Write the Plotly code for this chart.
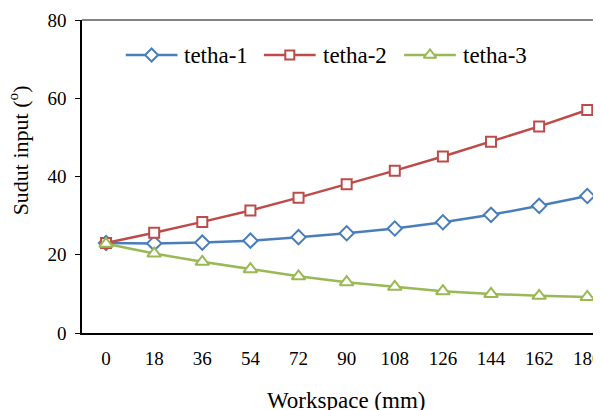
import plotly.graph_objects as go

workspace = ["0", "18", "36", "54", "72", "90", "108", "126", "144", "162", "180"]
tetha1 = [23.0, 22.9, 23.1, 23.6, 24.5, 25.5, 26.7, 28.3, 30.2, 32.5, 35.0]
tetha2 = [23.0, 25.6, 28.4, 31.3, 34.6, 38.0, 41.5, 45.1, 48.9, 52.8, 57.0]
tetha3 = [22.8, 20.3, 18.2, 16.3, 14.5, 13.0, 11.8, 10.7, 10.0, 9.5, 9.2]

series_names = ["tetha-1", "tetha-2", "tetha-3"]
series_values = [tetha1, tetha2, tetha3]
colors = ["#4A7EBB", "#BE4B48", "#98B954"]
symbols = ["diamond", "square", "triangle-up"]
sizes = [11, 10, 12]
legend_sizes = [10, 9, 11]
# legend item left edges (window px)
legend_x0 = [126, 265, 406]

FONT = "Liberation Serif"

# page body has an 8px margin; size the figure so it fills the window
OFF = 8
W, H = 601 - OFF, 410 - OFF
ml, mt, mb = 82 - OFF, 20 - OFF, 77
pw = W - ml
ph = H - mt - mb
cat_px = 48.4
xmax = -0.5 + pw / cat_px


def px(xw):
    return (xw - OFF - ml) / pw


def py(yw):
    return (H - mb - (yw - OFF)) / ph


fig = go.Figure()
for name, vals, col, sym, sz in zip(series_names, series_values, colors, symbols, sizes):
    fig.add_trace(go.Scatter(
        x=workspace, y=vals, name=name, mode="lines+markers", showlegend=False,
        line=dict(color=col, width=2.5),
        marker=dict(symbol=sym, size=sz, color="white", line=dict(color=col, width=2)),
    ))

# custom legend drawn on an overlay axis measured in plot pixels
annotations = []
LEG_Y = 55
for name, col, sym, lsz, x0 in zip(series_names, colors, symbols, legend_sizes, legend_x0):
    lx0, lx1 = px(x0) * pw, px(x0 + 52) * pw
    ly = py(LEG_Y) * ph
    fig.add_trace(go.Scatter(
        x=[lx0, lx1], y=[ly, ly], xaxis="x2", yaxis="y2", mode="lines",
        showlegend=False, hoverinfo="skip", line=dict(color=col, width=2.5)))
    fig.add_trace(go.Scatter(
        x=[(lx0 + lx1) / 2], y=[ly], xaxis="x2", yaxis="y2", mode="markers",
        showlegend=False, hoverinfo="skip",
        marker=dict(symbol=sym, size=lsz, color="white",
                    line=dict(color=col, width=2))))
    annotations.append(dict(
        text=name, xref="paper", yref="paper", x=px(x0 + 57), y=py(LEG_Y),
        xanchor="left", yanchor="middle", showarrow=False,
        font=dict(size=23, family=FONT, color="black")))

annotations += [
    dict(text="Workspace (mm)", xref="paper", yref="paper",
         x=px(348), y=py(400), xanchor="center", yanchor="middle",
         showarrow=False, font=dict(size=23, family=FONT)),
    dict(text="Sudut input (<sup>o</sup>)", xref="paper", yref="paper",
         x=px(18), y=py(150), xanchor="center", yanchor="middle",
         textangle=-90, showarrow=False, font=dict(size=22, family=FONT)),
]

fig.update_layout(
    width=W, height=H,
    margin=dict(l=ml, r=0, t=mt, b=mb),
    paper_bgcolor="white", plot_bgcolor="white",
    font=dict(family=FONT, color="black", size=19),
    showlegend=False,
    xaxis=dict(type="category", range=[-0.5, xmax], showgrid=False,
               showline=True, linecolor="black", linewidth=1.5,
               ticks="", ticklabelstandoff=7, tickfont=dict(size=19),
               zeroline=False),
    yaxis=dict(range=[0, 80], dtick=20, showgrid=False, showline=True,
               linecolor="black", linewidth=1.5, ticks="outside", ticklen=5,
               tickcolor="black", ticklabelstandoff=5, tickfont=dict(size=19),
               zeroline=False),
    xaxis2=dict(overlaying="x", anchor="y2", range=[0, pw], visible=False,
                fixedrange=True),
    yaxis2=dict(overlaying="y", anchor="x2", range=[0, ph], visible=False,
                fixedrange=True),
    shapes=[dict(type="line", xref="paper", yref="paper", x0=0, x1=1, y0=1, y1=1,
                 line=dict(color="#595959", width=1.5))],
    annotations=annotations,
)

fig.write_html("out.html")
